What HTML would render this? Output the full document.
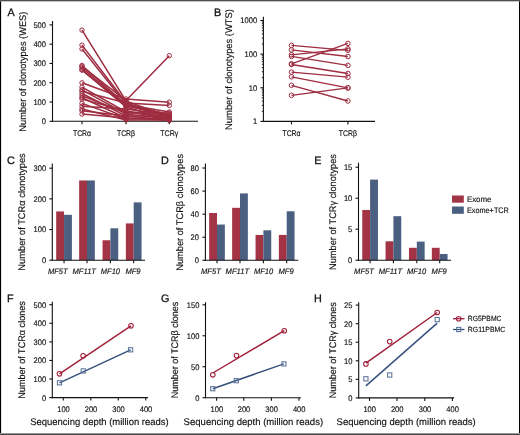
<!DOCTYPE html>
<html><head><meta charset="utf-8"><style>
html,body{margin:0;padding:0;background:#fff;}
svg{display:block;font-family:'Liberation Sans', sans-serif;will-change:transform;}
text{stroke:currentColor;stroke-width:0.15px;text-rendering:geometricPrecision;}
</style></head><body>
<svg width="520" height="435" viewBox="0 0 520 435">
<rect x="0" y="0" width="520" height="435" fill="#fff"/>
<line x1="52.50" y1="21.00" x2="52.50" y2="121.85" stroke="#111111" stroke-width="1.1"/>
<line x1="49.50" y1="121.30" x2="52.50" y2="121.30" stroke="#111111" stroke-width="1.1"/>
<line x1="49.50" y1="102.02" x2="52.50" y2="102.02" stroke="#111111" stroke-width="1.1"/>
<line x1="49.50" y1="82.74" x2="52.50" y2="82.74" stroke="#111111" stroke-width="1.1"/>
<line x1="49.50" y1="63.46" x2="52.50" y2="63.46" stroke="#111111" stroke-width="1.1"/>
<line x1="49.50" y1="44.18" x2="52.50" y2="44.18" stroke="#111111" stroke-width="1.1"/>
<line x1="49.50" y1="24.90" x2="52.50" y2="24.90" stroke="#111111" stroke-width="1.1"/>
<line x1="51.95" y1="121.30" x2="198.00" y2="121.30" stroke="#111111" stroke-width="1.1"/>
<line x1="82.00" y1="121.30" x2="82.00" y2="124.30" stroke="#111111" stroke-width="1.1"/>
<line x1="126.00" y1="121.30" x2="126.00" y2="124.30" stroke="#111111" stroke-width="1.1"/>
<line x1="169.30" y1="121.30" x2="169.30" y2="124.30" stroke="#111111" stroke-width="1.1"/>
<text x="46.00" y="124.20" font-size="8.1" text-anchor="end" textLength="4.20" lengthAdjust="spacingAndGlyphs" fill="#111111" color="#111111">0</text>
<text x="46.00" y="104.92" font-size="8.1" text-anchor="end" textLength="12.60" lengthAdjust="spacingAndGlyphs" fill="#111111" color="#111111">100</text>
<text x="46.00" y="85.64" font-size="8.1" text-anchor="end" textLength="12.60" lengthAdjust="spacingAndGlyphs" fill="#111111" color="#111111">200</text>
<text x="46.00" y="66.36" font-size="8.1" text-anchor="end" textLength="12.60" lengthAdjust="spacingAndGlyphs" fill="#111111" color="#111111">300</text>
<text x="46.00" y="47.08" font-size="8.1" text-anchor="end" textLength="12.60" lengthAdjust="spacingAndGlyphs" fill="#111111" color="#111111">400</text>
<text x="46.00" y="27.80" font-size="8.1" text-anchor="end" textLength="12.60" lengthAdjust="spacingAndGlyphs" fill="#111111" color="#111111">500</text>
<text x="82.00" y="135.90" font-size="8.2" text-anchor="middle" textLength="18.10" lengthAdjust="spacingAndGlyphs" fill="#111111" color="#111111">TCR&#945;</text>
<text x="126.00" y="135.90" font-size="8.2" text-anchor="middle" textLength="18.10" lengthAdjust="spacingAndGlyphs" fill="#111111" color="#111111">TCR&#946;</text>
<text x="169.30" y="135.90" font-size="8.2" text-anchor="middle" textLength="18.10" lengthAdjust="spacingAndGlyphs" fill="#111111" color="#111111">TCR&#947;</text>
<text transform="translate(25.60,71.65) rotate(-90)" x="0" y="0" font-size="9.6" text-anchor="middle" textLength="120.10" lengthAdjust="spacingAndGlyphs" fill="#111111" color="#111111">Number of clonotypes (WES)</text>
<text x="7.50" y="15.60" font-size="10.8" fill="#111111" color="#111111" style="stroke-width:0.3px">A</text>
<polyline points="82.0,30.1 126.0,101 169.3,117.0" fill="none" stroke="#9e2d41" stroke-width="1.5"/>
<polyline points="82.0,45.1 126.0,102.5 169.3,119.0" fill="none" stroke="#9e2d41" stroke-width="1.5"/>
<polyline points="82.0,49.0 126.0,104 169.3,115.0" fill="none" stroke="#9e2d41" stroke-width="1.5"/>
<polyline points="82.0,65.5 126.0,104.5 169.3,112.0" fill="none" stroke="#9e2d41" stroke-width="1.5"/>
<polyline points="82.0,66.3 126.0,100.5 169.3,55.7" fill="none" stroke="#9e2d41" stroke-width="1.5"/>
<polyline points="82.0,69.7 126.0,107 169.3,120.0" fill="none" stroke="#9e2d41" stroke-width="1.5"/>
<polyline points="82.0,67.8 126.0,105.5 169.3,116.5" fill="none" stroke="#9e2d41" stroke-width="1.5"/>
<polyline points="82.0,70.1 126.0,106 169.3,114.0" fill="none" stroke="#9e2d41" stroke-width="1.5"/>
<polyline points="82.0,82.8 126.0,99 169.3,102.2" fill="none" stroke="#9e2d41" stroke-width="1.5"/>
<polyline points="82.0,87.1 126.0,112 169.3,118.0" fill="none" stroke="#9e2d41" stroke-width="1.5"/>
<polyline points="82.0,89.9 126.0,114 169.3,119.0" fill="none" stroke="#9e2d41" stroke-width="1.5"/>
<polyline points="82.0,91.3 126.0,103 169.3,105.4" fill="none" stroke="#9e2d41" stroke-width="1.5"/>
<polyline points="82.0,93.5 126.0,116 169.3,116.0" fill="none" stroke="#9e2d41" stroke-width="1.5"/>
<polyline points="82.0,95.8 126.0,113 169.3,113.0" fill="none" stroke="#9e2d41" stroke-width="1.5"/>
<polyline points="82.0,97.7 126.0,118 169.3,120.3" fill="none" stroke="#9e2d41" stroke-width="1.5"/>
<polyline points="82.0,99.1 126.0,111 169.3,117.0" fill="none" stroke="#9e2d41" stroke-width="1.5"/>
<polyline points="82.0,103.4 126.0,119 169.3,118.0" fill="none" stroke="#9e2d41" stroke-width="1.5"/>
<polyline points="82.0,106.3 126.0,109 169.3,115.0" fill="none" stroke="#9e2d41" stroke-width="1.5"/>
<polyline points="82.0,109.1 126.0,120 169.3,120.0" fill="none" stroke="#9e2d41" stroke-width="1.5"/>
<polyline points="82.0,110.7 126.0,116 169.3,120.3" fill="none" stroke="#9e2d41" stroke-width="1.5"/>
<polyline points="82.0,114.1 126.0,118 169.3,119.0" fill="none" stroke="#9e2d41" stroke-width="1.5"/>
<circle cx="82.0" cy="30.1" r="2.2" fill="none" stroke="#9e2d41" stroke-width="1.0"/>
<circle cx="126.0" cy="101" r="2.2" fill="none" stroke="#9e2d41" stroke-width="1.0"/>
<circle cx="169.3" cy="117.0" r="2.2" fill="none" stroke="#9e2d41" stroke-width="1.0"/>
<circle cx="82.0" cy="45.1" r="2.2" fill="none" stroke="#9e2d41" stroke-width="1.0"/>
<circle cx="126.0" cy="102.5" r="2.2" fill="none" stroke="#9e2d41" stroke-width="1.0"/>
<circle cx="169.3" cy="119.0" r="2.2" fill="none" stroke="#9e2d41" stroke-width="1.0"/>
<circle cx="82.0" cy="49.0" r="2.2" fill="none" stroke="#9e2d41" stroke-width="1.0"/>
<circle cx="126.0" cy="104" r="2.2" fill="none" stroke="#9e2d41" stroke-width="1.0"/>
<circle cx="169.3" cy="115.0" r="2.2" fill="none" stroke="#9e2d41" stroke-width="1.0"/>
<circle cx="82.0" cy="65.5" r="2.2" fill="none" stroke="#9e2d41" stroke-width="1.0"/>
<circle cx="126.0" cy="104.5" r="2.2" fill="none" stroke="#9e2d41" stroke-width="1.0"/>
<circle cx="169.3" cy="112.0" r="2.2" fill="none" stroke="#9e2d41" stroke-width="1.0"/>
<circle cx="82.0" cy="66.3" r="2.2" fill="none" stroke="#9e2d41" stroke-width="1.0"/>
<circle cx="126.0" cy="100.5" r="2.2" fill="none" stroke="#9e2d41" stroke-width="1.0"/>
<circle cx="169.3" cy="55.7" r="2.2" fill="none" stroke="#9e2d41" stroke-width="1.0"/>
<circle cx="82.0" cy="69.7" r="2.2" fill="none" stroke="#9e2d41" stroke-width="1.0"/>
<circle cx="126.0" cy="107" r="2.2" fill="none" stroke="#9e2d41" stroke-width="1.0"/>
<circle cx="169.3" cy="120.0" r="2.2" fill="none" stroke="#9e2d41" stroke-width="1.0"/>
<circle cx="82.0" cy="67.8" r="2.2" fill="none" stroke="#9e2d41" stroke-width="1.0"/>
<circle cx="126.0" cy="105.5" r="2.2" fill="none" stroke="#9e2d41" stroke-width="1.0"/>
<circle cx="169.3" cy="116.5" r="2.2" fill="none" stroke="#9e2d41" stroke-width="1.0"/>
<circle cx="82.0" cy="70.1" r="2.2" fill="none" stroke="#9e2d41" stroke-width="1.0"/>
<circle cx="126.0" cy="106" r="2.2" fill="none" stroke="#9e2d41" stroke-width="1.0"/>
<circle cx="169.3" cy="114.0" r="2.2" fill="none" stroke="#9e2d41" stroke-width="1.0"/>
<circle cx="82.0" cy="82.8" r="2.2" fill="none" stroke="#9e2d41" stroke-width="1.0"/>
<circle cx="126.0" cy="99" r="2.2" fill="none" stroke="#9e2d41" stroke-width="1.0"/>
<circle cx="169.3" cy="102.2" r="2.2" fill="none" stroke="#9e2d41" stroke-width="1.0"/>
<circle cx="82.0" cy="87.1" r="2.2" fill="none" stroke="#9e2d41" stroke-width="1.0"/>
<circle cx="126.0" cy="112" r="2.2" fill="none" stroke="#9e2d41" stroke-width="1.0"/>
<circle cx="169.3" cy="118.0" r="2.2" fill="none" stroke="#9e2d41" stroke-width="1.0"/>
<circle cx="82.0" cy="89.9" r="2.2" fill="none" stroke="#9e2d41" stroke-width="1.0"/>
<circle cx="126.0" cy="114" r="2.2" fill="none" stroke="#9e2d41" stroke-width="1.0"/>
<circle cx="169.3" cy="119.0" r="2.2" fill="none" stroke="#9e2d41" stroke-width="1.0"/>
<circle cx="82.0" cy="91.3" r="2.2" fill="none" stroke="#9e2d41" stroke-width="1.0"/>
<circle cx="126.0" cy="103" r="2.2" fill="none" stroke="#9e2d41" stroke-width="1.0"/>
<circle cx="169.3" cy="105.4" r="2.2" fill="none" stroke="#9e2d41" stroke-width="1.0"/>
<circle cx="82.0" cy="93.5" r="2.2" fill="none" stroke="#9e2d41" stroke-width="1.0"/>
<circle cx="126.0" cy="116" r="2.2" fill="none" stroke="#9e2d41" stroke-width="1.0"/>
<circle cx="169.3" cy="116.0" r="2.2" fill="none" stroke="#9e2d41" stroke-width="1.0"/>
<circle cx="82.0" cy="95.8" r="2.2" fill="none" stroke="#9e2d41" stroke-width="1.0"/>
<circle cx="126.0" cy="113" r="2.2" fill="none" stroke="#9e2d41" stroke-width="1.0"/>
<circle cx="169.3" cy="113.0" r="2.2" fill="none" stroke="#9e2d41" stroke-width="1.0"/>
<circle cx="82.0" cy="97.7" r="2.2" fill="none" stroke="#9e2d41" stroke-width="1.0"/>
<circle cx="126.0" cy="118" r="2.2" fill="none" stroke="#9e2d41" stroke-width="1.0"/>
<circle cx="169.3" cy="120.3" r="2.2" fill="none" stroke="#9e2d41" stroke-width="1.0"/>
<circle cx="82.0" cy="99.1" r="2.2" fill="none" stroke="#9e2d41" stroke-width="1.0"/>
<circle cx="126.0" cy="111" r="2.2" fill="none" stroke="#9e2d41" stroke-width="1.0"/>
<circle cx="169.3" cy="117.0" r="2.2" fill="none" stroke="#9e2d41" stroke-width="1.0"/>
<circle cx="82.0" cy="103.4" r="2.2" fill="none" stroke="#9e2d41" stroke-width="1.0"/>
<circle cx="126.0" cy="119" r="2.2" fill="none" stroke="#9e2d41" stroke-width="1.0"/>
<circle cx="169.3" cy="118.0" r="2.2" fill="none" stroke="#9e2d41" stroke-width="1.0"/>
<circle cx="82.0" cy="106.3" r="2.2" fill="none" stroke="#9e2d41" stroke-width="1.0"/>
<circle cx="126.0" cy="109" r="2.2" fill="none" stroke="#9e2d41" stroke-width="1.0"/>
<circle cx="169.3" cy="115.0" r="2.2" fill="none" stroke="#9e2d41" stroke-width="1.0"/>
<circle cx="82.0" cy="109.1" r="2.2" fill="none" stroke="#9e2d41" stroke-width="1.0"/>
<circle cx="126.0" cy="120" r="2.2" fill="none" stroke="#9e2d41" stroke-width="1.0"/>
<circle cx="169.3" cy="120.0" r="2.2" fill="none" stroke="#9e2d41" stroke-width="1.0"/>
<circle cx="82.0" cy="110.7" r="2.2" fill="none" stroke="#9e2d41" stroke-width="1.0"/>
<circle cx="126.0" cy="116" r="2.2" fill="none" stroke="#9e2d41" stroke-width="1.0"/>
<circle cx="169.3" cy="120.3" r="2.2" fill="none" stroke="#9e2d41" stroke-width="1.0"/>
<circle cx="82.0" cy="114.1" r="2.2" fill="none" stroke="#9e2d41" stroke-width="1.0"/>
<circle cx="126.0" cy="118" r="2.2" fill="none" stroke="#9e2d41" stroke-width="1.0"/>
<circle cx="169.3" cy="119.0" r="2.2" fill="none" stroke="#9e2d41" stroke-width="1.0"/>
<line x1="263.40" y1="16.80" x2="263.40" y2="121.95" stroke="#111111" stroke-width="1.1"/>
<line x1="260.40" y1="121.40" x2="263.40" y2="121.40" stroke="#111111" stroke-width="1.1"/>
<line x1="260.40" y1="87.77" x2="263.40" y2="87.77" stroke="#111111" stroke-width="1.1"/>
<line x1="260.40" y1="54.14" x2="263.40" y2="54.14" stroke="#111111" stroke-width="1.1"/>
<line x1="260.40" y1="20.51" x2="263.40" y2="20.51" stroke="#111111" stroke-width="1.1"/>
<line x1="261.80" y1="111.28" x2="263.40" y2="111.28" stroke="#111111" stroke-width="0.9"/>
<line x1="261.80" y1="105.35" x2="263.40" y2="105.35" stroke="#111111" stroke-width="0.9"/>
<line x1="261.80" y1="101.15" x2="263.40" y2="101.15" stroke="#111111" stroke-width="0.9"/>
<line x1="261.80" y1="97.89" x2="263.40" y2="97.89" stroke="#111111" stroke-width="0.9"/>
<line x1="261.80" y1="95.23" x2="263.40" y2="95.23" stroke="#111111" stroke-width="0.9"/>
<line x1="261.80" y1="92.98" x2="263.40" y2="92.98" stroke="#111111" stroke-width="0.9"/>
<line x1="261.80" y1="91.03" x2="263.40" y2="91.03" stroke="#111111" stroke-width="0.9"/>
<line x1="261.80" y1="89.31" x2="263.40" y2="89.31" stroke="#111111" stroke-width="0.9"/>
<line x1="261.80" y1="77.65" x2="263.40" y2="77.65" stroke="#111111" stroke-width="0.9"/>
<line x1="261.80" y1="71.72" x2="263.40" y2="71.72" stroke="#111111" stroke-width="0.9"/>
<line x1="261.80" y1="67.52" x2="263.40" y2="67.52" stroke="#111111" stroke-width="0.9"/>
<line x1="261.80" y1="64.26" x2="263.40" y2="64.26" stroke="#111111" stroke-width="0.9"/>
<line x1="261.80" y1="61.60" x2="263.40" y2="61.60" stroke="#111111" stroke-width="0.9"/>
<line x1="261.80" y1="59.35" x2="263.40" y2="59.35" stroke="#111111" stroke-width="0.9"/>
<line x1="261.80" y1="57.40" x2="263.40" y2="57.40" stroke="#111111" stroke-width="0.9"/>
<line x1="261.80" y1="55.68" x2="263.40" y2="55.68" stroke="#111111" stroke-width="0.9"/>
<line x1="261.80" y1="44.02" x2="263.40" y2="44.02" stroke="#111111" stroke-width="0.9"/>
<line x1="261.80" y1="38.09" x2="263.40" y2="38.09" stroke="#111111" stroke-width="0.9"/>
<line x1="261.80" y1="33.89" x2="263.40" y2="33.89" stroke="#111111" stroke-width="0.9"/>
<line x1="261.80" y1="30.63" x2="263.40" y2="30.63" stroke="#111111" stroke-width="0.9"/>
<line x1="261.80" y1="27.97" x2="263.40" y2="27.97" stroke="#111111" stroke-width="0.9"/>
<line x1="261.80" y1="25.72" x2="263.40" y2="25.72" stroke="#111111" stroke-width="0.9"/>
<line x1="261.80" y1="23.77" x2="263.40" y2="23.77" stroke="#111111" stroke-width="0.9"/>
<line x1="261.80" y1="22.05" x2="263.40" y2="22.05" stroke="#111111" stroke-width="0.9"/>
<line x1="262.85" y1="121.40" x2="375.00" y2="121.40" stroke="#111111" stroke-width="1.1"/>
<line x1="291.50" y1="121.40" x2="291.50" y2="124.40" stroke="#111111" stroke-width="1.1"/>
<line x1="347.90" y1="121.40" x2="347.90" y2="124.40" stroke="#111111" stroke-width="1.1"/>
<text x="257.10" y="124.30" font-size="8.1" text-anchor="end" textLength="4.20" lengthAdjust="spacingAndGlyphs" fill="#111111" color="#111111">1</text>
<text x="257.10" y="90.67" font-size="8.1" text-anchor="end" textLength="8.40" lengthAdjust="spacingAndGlyphs" fill="#111111" color="#111111">10</text>
<text x="257.10" y="57.04" font-size="8.1" text-anchor="end" textLength="12.60" lengthAdjust="spacingAndGlyphs" fill="#111111" color="#111111">100</text>
<text x="257.10" y="23.41" font-size="8.1" text-anchor="end" textLength="16.80" lengthAdjust="spacingAndGlyphs" fill="#111111" color="#111111">1000</text>
<text x="291.50" y="135.90" font-size="8.2" text-anchor="middle" textLength="18.10" lengthAdjust="spacingAndGlyphs" fill="#111111" color="#111111">TCR&#945;</text>
<text x="347.90" y="135.90" font-size="8.2" text-anchor="middle" textLength="18.10" lengthAdjust="spacingAndGlyphs" fill="#111111" color="#111111">TCR&#946;</text>
<text transform="translate(231.80,69.50) rotate(-90)" x="0" y="0" font-size="9.6" text-anchor="middle" textLength="120.80" lengthAdjust="spacingAndGlyphs" fill="#111111" color="#111111">Number of clonotypes (WTS)</text>
<text x="213.90" y="15.60" font-size="10.8" fill="#111111" color="#111111" style="stroke-width:0.3px">B</text>
<line x1="291.50" y1="45.40" x2="347.90" y2="50.30" stroke="#9e2d41" stroke-width="1.3"/>
<line x1="291.50" y1="49.90" x2="347.90" y2="56.50" stroke="#9e2d41" stroke-width="1.3"/>
<line x1="291.50" y1="54.80" x2="347.90" y2="48.80" stroke="#9e2d41" stroke-width="1.3"/>
<line x1="291.50" y1="56.40" x2="347.90" y2="65.40" stroke="#9e2d41" stroke-width="1.3"/>
<line x1="291.50" y1="63.80" x2="347.90" y2="43.40" stroke="#9e2d41" stroke-width="1.3"/>
<line x1="291.50" y1="64.50" x2="347.90" y2="73.50" stroke="#9e2d41" stroke-width="1.3"/>
<line x1="291.50" y1="72.10" x2="347.90" y2="77.20" stroke="#9e2d41" stroke-width="1.3"/>
<line x1="291.50" y1="76.80" x2="347.90" y2="87.90" stroke="#9e2d41" stroke-width="1.3"/>
<line x1="291.50" y1="85.30" x2="347.90" y2="101.00" stroke="#9e2d41" stroke-width="1.3"/>
<line x1="291.50" y1="95.30" x2="347.90" y2="87.90" stroke="#9e2d41" stroke-width="1.3"/>
<circle cx="291.5" cy="45.4" r="2.3" fill="none" stroke="#9e2d41" stroke-width="1.0"/>
<circle cx="347.9" cy="50.3" r="2.3" fill="none" stroke="#9e2d41" stroke-width="1.0"/>
<circle cx="291.5" cy="49.9" r="2.3" fill="none" stroke="#9e2d41" stroke-width="1.0"/>
<circle cx="347.9" cy="56.5" r="2.3" fill="none" stroke="#9e2d41" stroke-width="1.0"/>
<circle cx="291.5" cy="54.8" r="2.3" fill="none" stroke="#9e2d41" stroke-width="1.0"/>
<circle cx="347.9" cy="48.8" r="2.3" fill="none" stroke="#9e2d41" stroke-width="1.0"/>
<circle cx="291.5" cy="56.4" r="2.3" fill="none" stroke="#9e2d41" stroke-width="1.0"/>
<circle cx="347.9" cy="65.4" r="2.3" fill="none" stroke="#9e2d41" stroke-width="1.0"/>
<circle cx="291.5" cy="63.8" r="2.3" fill="none" stroke="#9e2d41" stroke-width="1.0"/>
<circle cx="347.9" cy="43.4" r="2.3" fill="none" stroke="#9e2d41" stroke-width="1.0"/>
<circle cx="291.5" cy="64.5" r="2.3" fill="none" stroke="#9e2d41" stroke-width="1.0"/>
<circle cx="347.9" cy="73.5" r="2.3" fill="none" stroke="#9e2d41" stroke-width="1.0"/>
<circle cx="291.5" cy="72.1" r="2.3" fill="none" stroke="#9e2d41" stroke-width="1.0"/>
<circle cx="347.9" cy="77.2" r="2.3" fill="none" stroke="#9e2d41" stroke-width="1.0"/>
<circle cx="291.5" cy="76.8" r="2.3" fill="none" stroke="#9e2d41" stroke-width="1.0"/>
<circle cx="347.9" cy="87.9" r="2.3" fill="none" stroke="#9e2d41" stroke-width="1.0"/>
<circle cx="291.5" cy="85.3" r="2.3" fill="none" stroke="#9e2d41" stroke-width="1.0"/>
<circle cx="347.9" cy="101.0" r="2.3" fill="none" stroke="#9e2d41" stroke-width="1.0"/>
<circle cx="291.5" cy="95.3" r="2.3" fill="none" stroke="#9e2d41" stroke-width="1.0"/>
<circle cx="347.9" cy="87.9" r="2.3" fill="none" stroke="#9e2d41" stroke-width="1.0"/>
<rect x="56.20" y="211.43" width="7.85" height="48.77" fill="#a23446"/>
<rect x="64.05" y="214.81" width="7.85" height="45.39" fill="#4b6080"/>
<rect x="79.15" y="180.46" width="7.85" height="79.74" fill="#a23446"/>
<rect x="87.00" y="180.46" width="7.85" height="79.74" fill="#4b6080"/>
<rect x="102.55" y="240.26" width="7.85" height="19.94" fill="#a23446"/>
<rect x="110.40" y="228.30" width="7.85" height="31.90" fill="#4b6080"/>
<rect x="125.85" y="223.40" width="7.85" height="36.80" fill="#a23446"/>
<rect x="133.70" y="202.39" width="7.85" height="57.81" fill="#4b6080"/>
<line x1="52.30" y1="163.50" x2="52.30" y2="260.75" stroke="#111111" stroke-width="1.1"/>
<line x1="49.30" y1="260.20" x2="52.30" y2="260.20" stroke="#111111" stroke-width="1.1"/>
<line x1="49.30" y1="229.53" x2="52.30" y2="229.53" stroke="#111111" stroke-width="1.1"/>
<line x1="49.30" y1="198.86" x2="52.30" y2="198.86" stroke="#111111" stroke-width="1.1"/>
<line x1="49.30" y1="168.19" x2="52.30" y2="168.19" stroke="#111111" stroke-width="1.1"/>
<line x1="51.75" y1="260.20" x2="145.10" y2="260.20" stroke="#111111" stroke-width="1.1"/>
<line x1="64.05" y1="260.20" x2="64.05" y2="263.20" stroke="#111111" stroke-width="1.1"/>
<line x1="87.00" y1="260.20" x2="87.00" y2="263.20" stroke="#111111" stroke-width="1.1"/>
<line x1="110.40" y1="260.20" x2="110.40" y2="263.20" stroke="#111111" stroke-width="1.1"/>
<line x1="133.70" y1="260.20" x2="133.70" y2="263.20" stroke="#111111" stroke-width="1.1"/>
<text x="46.20" y="263.10" font-size="8.1" text-anchor="end" textLength="4.20" lengthAdjust="spacingAndGlyphs" fill="#111111" color="#111111">0</text>
<text x="46.20" y="232.43" font-size="8.1" text-anchor="end" textLength="12.60" lengthAdjust="spacingAndGlyphs" fill="#111111" color="#111111">100</text>
<text x="46.20" y="201.76" font-size="8.1" text-anchor="end" textLength="12.60" lengthAdjust="spacingAndGlyphs" fill="#111111" color="#111111">200</text>
<text x="46.20" y="171.09" font-size="8.1" text-anchor="end" textLength="12.60" lengthAdjust="spacingAndGlyphs" fill="#111111" color="#111111">300</text>
<text x="47.90" y="273.60" font-size="8.0" textLength="19.80" lengthAdjust="spacingAndGlyphs" font-style="italic" fill="#111111" color="#111111">MF5T</text>
<text x="72.50" y="273.60" font-size="8.0" textLength="23.50" lengthAdjust="spacingAndGlyphs" font-style="italic" fill="#111111" color="#111111">MF11T</text>
<text x="100.80" y="273.60" font-size="8.0" textLength="19.20" lengthAdjust="spacingAndGlyphs" font-style="italic" fill="#111111" color="#111111">MF10</text>
<text x="125.40" y="273.60" font-size="8.0" textLength="15.20" lengthAdjust="spacingAndGlyphs" font-style="italic" fill="#111111" color="#111111">MF9</text>
<text transform="translate(25.00,212.00) rotate(-90)" x="0" y="0" font-size="9.6" text-anchor="middle" textLength="117.40" lengthAdjust="spacingAndGlyphs" fill="#111111" color="#111111">Number of TCR&#945; clonotypes</text>
<text x="7.00" y="164.00" font-size="10.8" fill="#111111" color="#111111" style="stroke-width:0.3px">C</text>
<rect x="209.15" y="213.01" width="7.85" height="47.29" fill="#a23446"/>
<rect x="217.00" y="224.54" width="7.85" height="35.76" fill="#4b6080"/>
<rect x="232.15" y="207.82" width="7.85" height="52.48" fill="#a23446"/>
<rect x="240.00" y="193.40" width="7.85" height="66.90" fill="#4b6080"/>
<rect x="255.55" y="234.92" width="7.85" height="25.38" fill="#a23446"/>
<rect x="263.40" y="230.31" width="7.85" height="29.99" fill="#4b6080"/>
<rect x="278.85" y="234.92" width="7.85" height="25.38" fill="#a23446"/>
<rect x="286.70" y="211.28" width="7.85" height="49.02" fill="#4b6080"/>
<line x1="205.40" y1="163.50" x2="205.40" y2="260.85" stroke="#111111" stroke-width="1.1"/>
<line x1="202.40" y1="260.30" x2="205.40" y2="260.30" stroke="#111111" stroke-width="1.1"/>
<line x1="202.40" y1="237.23" x2="205.40" y2="237.23" stroke="#111111" stroke-width="1.1"/>
<line x1="202.40" y1="214.16" x2="205.40" y2="214.16" stroke="#111111" stroke-width="1.1"/>
<line x1="202.40" y1="191.09" x2="205.40" y2="191.09" stroke="#111111" stroke-width="1.1"/>
<line x1="202.40" y1="168.02" x2="205.40" y2="168.02" stroke="#111111" stroke-width="1.1"/>
<line x1="204.85" y1="260.30" x2="298.30" y2="260.30" stroke="#111111" stroke-width="1.1"/>
<line x1="217.00" y1="260.30" x2="217.00" y2="263.30" stroke="#111111" stroke-width="1.1"/>
<line x1="240.00" y1="260.30" x2="240.00" y2="263.30" stroke="#111111" stroke-width="1.1"/>
<line x1="263.40" y1="260.30" x2="263.40" y2="263.30" stroke="#111111" stroke-width="1.1"/>
<line x1="286.70" y1="260.30" x2="286.70" y2="263.30" stroke="#111111" stroke-width="1.1"/>
<text x="199.00" y="263.20" font-size="8.1" text-anchor="end" textLength="4.20" lengthAdjust="spacingAndGlyphs" fill="#111111" color="#111111">0</text>
<text x="199.00" y="240.13" font-size="8.1" text-anchor="end" textLength="8.40" lengthAdjust="spacingAndGlyphs" fill="#111111" color="#111111">20</text>
<text x="199.00" y="217.06" font-size="8.1" text-anchor="end" textLength="8.40" lengthAdjust="spacingAndGlyphs" fill="#111111" color="#111111">40</text>
<text x="199.00" y="193.99" font-size="8.1" text-anchor="end" textLength="8.40" lengthAdjust="spacingAndGlyphs" fill="#111111" color="#111111">60</text>
<text x="199.00" y="170.92" font-size="8.1" text-anchor="end" textLength="8.40" lengthAdjust="spacingAndGlyphs" fill="#111111" color="#111111">80</text>
<text x="201.00" y="273.60" font-size="8.0" textLength="19.80" lengthAdjust="spacingAndGlyphs" font-style="italic" fill="#111111" color="#111111">MF5T</text>
<text x="225.60" y="273.60" font-size="8.0" textLength="23.50" lengthAdjust="spacingAndGlyphs" font-style="italic" fill="#111111" color="#111111">MF11T</text>
<text x="253.90" y="273.60" font-size="8.0" textLength="19.20" lengthAdjust="spacingAndGlyphs" font-style="italic" fill="#111111" color="#111111">MF10</text>
<text x="278.50" y="273.60" font-size="8.0" textLength="15.20" lengthAdjust="spacingAndGlyphs" font-style="italic" fill="#111111" color="#111111">MF9</text>
<text transform="translate(183.00,212.40) rotate(-90)" x="0" y="0" font-size="9.6" text-anchor="middle" textLength="116.80" lengthAdjust="spacingAndGlyphs" fill="#111111" color="#111111">Number of TCR&#946; clonotypes</text>
<text x="160.90" y="164.00" font-size="10.8" fill="#111111" color="#111111" style="stroke-width:0.3px">D</text>
<rect x="362.25" y="209.98" width="7.85" height="50.22" fill="#a23446"/>
<rect x="370.10" y="179.60" width="7.85" height="80.60" fill="#4b6080"/>
<rect x="385.55" y="241.29" width="7.85" height="18.91" fill="#a23446"/>
<rect x="393.40" y="216.18" width="7.85" height="44.02" fill="#4b6080"/>
<rect x="408.95" y="247.80" width="7.85" height="12.40" fill="#a23446"/>
<rect x="416.80" y="241.60" width="7.85" height="18.60" fill="#4b6080"/>
<rect x="431.85" y="247.80" width="7.85" height="12.40" fill="#a23446"/>
<rect x="439.70" y="254.00" width="7.85" height="6.20" fill="#4b6080"/>
<line x1="358.50" y1="162.70" x2="358.50" y2="260.75" stroke="#111111" stroke-width="1.1"/>
<line x1="355.50" y1="260.20" x2="358.50" y2="260.20" stroke="#111111" stroke-width="1.1"/>
<line x1="355.50" y1="229.20" x2="358.50" y2="229.20" stroke="#111111" stroke-width="1.1"/>
<line x1="355.50" y1="198.20" x2="358.50" y2="198.20" stroke="#111111" stroke-width="1.1"/>
<line x1="355.50" y1="167.20" x2="358.50" y2="167.20" stroke="#111111" stroke-width="1.1"/>
<line x1="357.95" y1="260.20" x2="451.10" y2="260.20" stroke="#111111" stroke-width="1.1"/>
<line x1="370.10" y1="260.20" x2="370.10" y2="263.20" stroke="#111111" stroke-width="1.1"/>
<line x1="393.40" y1="260.20" x2="393.40" y2="263.20" stroke="#111111" stroke-width="1.1"/>
<line x1="416.80" y1="260.20" x2="416.80" y2="263.20" stroke="#111111" stroke-width="1.1"/>
<line x1="439.70" y1="260.20" x2="439.70" y2="263.20" stroke="#111111" stroke-width="1.1"/>
<text x="352.30" y="263.10" font-size="8.1" text-anchor="end" textLength="4.20" lengthAdjust="spacingAndGlyphs" fill="#111111" color="#111111">0</text>
<text x="352.30" y="232.10" font-size="8.1" text-anchor="end" textLength="4.20" lengthAdjust="spacingAndGlyphs" fill="#111111" color="#111111">5</text>
<text x="352.30" y="201.10" font-size="8.1" text-anchor="end" textLength="8.40" lengthAdjust="spacingAndGlyphs" fill="#111111" color="#111111">10</text>
<text x="352.30" y="170.10" font-size="8.1" text-anchor="end" textLength="8.40" lengthAdjust="spacingAndGlyphs" fill="#111111" color="#111111">15</text>
<text x="354.10" y="273.60" font-size="8.0" textLength="19.80" lengthAdjust="spacingAndGlyphs" font-style="italic" fill="#111111" color="#111111">MF5T</text>
<text x="378.70" y="273.60" font-size="8.0" textLength="23.50" lengthAdjust="spacingAndGlyphs" font-style="italic" fill="#111111" color="#111111">MF11T</text>
<text x="407.00" y="273.60" font-size="8.0" textLength="19.20" lengthAdjust="spacingAndGlyphs" font-style="italic" fill="#111111" color="#111111">MF10</text>
<text x="431.60" y="273.60" font-size="8.0" textLength="15.20" lengthAdjust="spacingAndGlyphs" font-style="italic" fill="#111111" color="#111111">MF9</text>
<text transform="translate(336.00,212.05) rotate(-90)" x="0" y="0" font-size="9.6" text-anchor="middle" textLength="115.90" lengthAdjust="spacingAndGlyphs" fill="#111111" color="#111111">Number of TCR&#947; clonotypes</text>
<text x="314.30" y="164.00" font-size="10.8" fill="#111111" color="#111111" style="stroke-width:0.3px">E</text>
<rect x="452" y="195.5" width="11.8" height="7.2" fill="#a23446"/>
<rect x="452" y="206.5" width="11.8" height="7.3" fill="#4b6080"/>
<text x="466.90" y="201.90" font-size="8" textLength="24.60" lengthAdjust="spacingAndGlyphs" fill="#111111" color="#111111">Exome</text>
<text x="466.90" y="213.00" font-size="8" textLength="42.00" lengthAdjust="spacingAndGlyphs" fill="#111111" color="#111111">Exome+TCR</text>
<line x1="52.30" y1="301.80" x2="52.30" y2="398.15" stroke="#111111" stroke-width="1.1"/>
<line x1="49.30" y1="397.60" x2="52.30" y2="397.60" stroke="#111111" stroke-width="1.1"/>
<line x1="49.30" y1="379.02" x2="52.30" y2="379.02" stroke="#111111" stroke-width="1.1"/>
<line x1="49.30" y1="360.44" x2="52.30" y2="360.44" stroke="#111111" stroke-width="1.1"/>
<line x1="49.30" y1="341.86" x2="52.30" y2="341.86" stroke="#111111" stroke-width="1.1"/>
<line x1="49.30" y1="323.28" x2="52.30" y2="323.28" stroke="#111111" stroke-width="1.1"/>
<line x1="49.30" y1="304.70" x2="52.30" y2="304.70" stroke="#111111" stroke-width="1.1"/>
<line x1="51.75" y1="397.60" x2="147.90" y2="397.60" stroke="#111111" stroke-width="1.1"/>
<line x1="63.30" y1="397.60" x2="63.30" y2="400.60" stroke="#111111" stroke-width="1.1"/>
<line x1="90.80" y1="397.60" x2="90.80" y2="400.60" stroke="#111111" stroke-width="1.1"/>
<line x1="118.30" y1="397.60" x2="118.30" y2="400.60" stroke="#111111" stroke-width="1.1"/>
<line x1="145.80" y1="397.60" x2="145.80" y2="400.60" stroke="#111111" stroke-width="1.1"/>
<text x="46.20" y="400.50" font-size="8.1" text-anchor="end" textLength="4.20" lengthAdjust="spacingAndGlyphs" fill="#111111" color="#111111">0</text>
<text x="46.20" y="381.92" font-size="8.1" text-anchor="end" textLength="12.60" lengthAdjust="spacingAndGlyphs" fill="#111111" color="#111111">100</text>
<text x="46.20" y="363.34" font-size="8.1" text-anchor="end" textLength="12.60" lengthAdjust="spacingAndGlyphs" fill="#111111" color="#111111">200</text>
<text x="46.20" y="344.76" font-size="8.1" text-anchor="end" textLength="12.60" lengthAdjust="spacingAndGlyphs" fill="#111111" color="#111111">300</text>
<text x="46.20" y="326.18" font-size="8.1" text-anchor="end" textLength="12.60" lengthAdjust="spacingAndGlyphs" fill="#111111" color="#111111">400</text>
<text x="46.20" y="307.60" font-size="8.1" text-anchor="end" textLength="12.60" lengthAdjust="spacingAndGlyphs" fill="#111111" color="#111111">500</text>
<text x="63.50" y="411.80" font-size="8.1" text-anchor="middle" textLength="12.60" lengthAdjust="spacingAndGlyphs" fill="#111111" color="#111111">100</text>
<text x="91.00" y="411.80" font-size="8.1" text-anchor="middle" textLength="12.60" lengthAdjust="spacingAndGlyphs" fill="#111111" color="#111111">200</text>
<text x="118.50" y="411.80" font-size="8.1" text-anchor="middle" textLength="12.60" lengthAdjust="spacingAndGlyphs" fill="#111111" color="#111111">300</text>
<text x="146.00" y="411.80" font-size="8.1" text-anchor="middle" textLength="12.60" lengthAdjust="spacingAndGlyphs" fill="#111111" color="#111111">400</text>
<line x1="59.50" y1="373.80" x2="131.00" y2="325.80" stroke="#a01f3a" stroke-width="1.45"/>
<line x1="59.50" y1="382.80" x2="130.60" y2="349.80" stroke="#35507c" stroke-width="1.45"/>
<circle cx="59.5" cy="373.8" r="2.3" fill="none" stroke="#a01f3a" stroke-width="1.05"/>
<circle cx="83.1" cy="355.7" r="2.3" fill="none" stroke="#a01f3a" stroke-width="1.05"/>
<circle cx="131.0" cy="325.8" r="2.3" fill="none" stroke="#a01f3a" stroke-width="1.05"/>
<rect x="57.40" y="380.70" width="4.2" height="4.2" fill="none" stroke="#5a739a" stroke-width="1.05"/>
<rect x="81.20" y="368.80" width="4.2" height="4.2" fill="none" stroke="#5a739a" stroke-width="1.05"/>
<rect x="128.50" y="347.70" width="4.2" height="4.2" fill="none" stroke="#5a739a" stroke-width="1.05"/>
<text transform="translate(25.20,349.90) rotate(-90)" x="0" y="0" font-size="9.6" text-anchor="middle" textLength="97.60" lengthAdjust="spacingAndGlyphs" fill="#111111" color="#111111">Number of TCR&#945; clones</text>
<text x="7.00" y="302.30" font-size="10.8" fill="#111111" color="#111111" style="stroke-width:0.3px">F</text>
<text x="30.20" y="425.40" font-size="9.6" textLength="138.50" lengthAdjust="spacingAndGlyphs" fill="#111111" color="#111111">Sequencing depth (million reads)</text>
<line x1="205.50" y1="302.20" x2="205.50" y2="398.25" stroke="#111111" stroke-width="1.1"/>
<line x1="202.50" y1="397.70" x2="205.50" y2="397.70" stroke="#111111" stroke-width="1.1"/>
<line x1="202.50" y1="366.73" x2="205.50" y2="366.73" stroke="#111111" stroke-width="1.1"/>
<line x1="202.50" y1="335.76" x2="205.50" y2="335.76" stroke="#111111" stroke-width="1.1"/>
<line x1="202.50" y1="304.79" x2="205.50" y2="304.79" stroke="#111111" stroke-width="1.1"/>
<line x1="204.95" y1="397.70" x2="300.90" y2="397.70" stroke="#111111" stroke-width="1.1"/>
<line x1="216.60" y1="397.70" x2="216.60" y2="400.70" stroke="#111111" stroke-width="1.1"/>
<line x1="243.80" y1="397.70" x2="243.80" y2="400.70" stroke="#111111" stroke-width="1.1"/>
<line x1="271.40" y1="397.70" x2="271.40" y2="400.70" stroke="#111111" stroke-width="1.1"/>
<line x1="299.00" y1="397.70" x2="299.00" y2="400.70" stroke="#111111" stroke-width="1.1"/>
<text x="199.40" y="400.60" font-size="8.1" text-anchor="end" textLength="4.20" lengthAdjust="spacingAndGlyphs" fill="#111111" color="#111111">0</text>
<text x="199.40" y="369.63" font-size="8.1" text-anchor="end" textLength="8.40" lengthAdjust="spacingAndGlyphs" fill="#111111" color="#111111">50</text>
<text x="199.40" y="338.66" font-size="8.1" text-anchor="end" textLength="12.60" lengthAdjust="spacingAndGlyphs" fill="#111111" color="#111111">100</text>
<text x="199.40" y="307.69" font-size="8.1" text-anchor="end" textLength="12.60" lengthAdjust="spacingAndGlyphs" fill="#111111" color="#111111">150</text>
<text x="216.80" y="411.80" font-size="8.1" text-anchor="middle" textLength="12.60" lengthAdjust="spacingAndGlyphs" fill="#111111" color="#111111">100</text>
<text x="244.00" y="411.80" font-size="8.1" text-anchor="middle" textLength="12.60" lengthAdjust="spacingAndGlyphs" fill="#111111" color="#111111">200</text>
<text x="271.60" y="411.80" font-size="8.1" text-anchor="middle" textLength="12.60" lengthAdjust="spacingAndGlyphs" fill="#111111" color="#111111">300</text>
<text x="299.20" y="411.80" font-size="8.1" text-anchor="middle" textLength="12.60" lengthAdjust="spacingAndGlyphs" fill="#111111" color="#111111">400</text>
<line x1="212.80" y1="373.00" x2="284.30" y2="330.70" stroke="#a01f3a" stroke-width="1.45"/>
<line x1="212.80" y1="388.70" x2="283.90" y2="363.90" stroke="#35507c" stroke-width="1.45"/>
<circle cx="212.8" cy="374.8" r="2.3" fill="none" stroke="#a01f3a" stroke-width="1.05"/>
<circle cx="236.5" cy="355.6" r="2.3" fill="none" stroke="#a01f3a" stroke-width="1.05"/>
<circle cx="284.3" cy="330.7" r="2.3" fill="none" stroke="#a01f3a" stroke-width="1.05"/>
<rect x="210.70" y="386.60" width="4.2" height="4.2" fill="none" stroke="#5a739a" stroke-width="1.05"/>
<rect x="234.20" y="378.60" width="4.2" height="4.2" fill="none" stroke="#5a739a" stroke-width="1.05"/>
<rect x="281.80" y="361.80" width="4.2" height="4.2" fill="none" stroke="#5a739a" stroke-width="1.05"/>
<text transform="translate(177.90,349.95) rotate(-90)" x="0" y="0" font-size="9.6" text-anchor="middle" textLength="96.50" lengthAdjust="spacingAndGlyphs" fill="#111111" color="#111111">Number of TCR&#946; clones</text>
<text x="161.00" y="302.30" font-size="10.8" fill="#111111" color="#111111" style="stroke-width:0.3px">G</text>
<text x="183.60" y="425.40" font-size="9.6" textLength="139.50" lengthAdjust="spacingAndGlyphs" fill="#111111" color="#111111">Sequencing depth (million reads)</text>
<line x1="358.70" y1="302.20" x2="358.70" y2="398.45" stroke="#111111" stroke-width="1.1"/>
<line x1="355.70" y1="397.90" x2="358.70" y2="397.90" stroke="#111111" stroke-width="1.1"/>
<line x1="355.70" y1="379.34" x2="358.70" y2="379.34" stroke="#111111" stroke-width="1.1"/>
<line x1="355.70" y1="360.78" x2="358.70" y2="360.78" stroke="#111111" stroke-width="1.1"/>
<line x1="355.70" y1="342.22" x2="358.70" y2="342.22" stroke="#111111" stroke-width="1.1"/>
<line x1="355.70" y1="323.66" x2="358.70" y2="323.66" stroke="#111111" stroke-width="1.1"/>
<line x1="355.70" y1="305.10" x2="358.70" y2="305.10" stroke="#111111" stroke-width="1.1"/>
<line x1="358.15" y1="397.90" x2="454.20" y2="397.90" stroke="#111111" stroke-width="1.1"/>
<line x1="369.50" y1="397.90" x2="369.50" y2="400.90" stroke="#111111" stroke-width="1.1"/>
<line x1="397.00" y1="397.90" x2="397.00" y2="400.90" stroke="#111111" stroke-width="1.1"/>
<line x1="424.80" y1="397.90" x2="424.80" y2="400.90" stroke="#111111" stroke-width="1.1"/>
<line x1="452.40" y1="397.90" x2="452.40" y2="400.90" stroke="#111111" stroke-width="1.1"/>
<text x="352.40" y="400.80" font-size="8.1" text-anchor="end" textLength="4.20" lengthAdjust="spacingAndGlyphs" fill="#111111" color="#111111">0</text>
<text x="352.40" y="382.24" font-size="8.1" text-anchor="end" textLength="4.20" lengthAdjust="spacingAndGlyphs" fill="#111111" color="#111111">5</text>
<text x="352.40" y="363.68" font-size="8.1" text-anchor="end" textLength="8.40" lengthAdjust="spacingAndGlyphs" fill="#111111" color="#111111">10</text>
<text x="352.40" y="345.12" font-size="8.1" text-anchor="end" textLength="8.40" lengthAdjust="spacingAndGlyphs" fill="#111111" color="#111111">15</text>
<text x="352.40" y="326.56" font-size="8.1" text-anchor="end" textLength="8.40" lengthAdjust="spacingAndGlyphs" fill="#111111" color="#111111">20</text>
<text x="352.40" y="308.00" font-size="8.1" text-anchor="end" textLength="8.40" lengthAdjust="spacingAndGlyphs" fill="#111111" color="#111111">25</text>
<text x="369.70" y="411.80" font-size="8.1" text-anchor="middle" textLength="12.60" lengthAdjust="spacingAndGlyphs" fill="#111111" color="#111111">100</text>
<text x="397.20" y="411.80" font-size="8.1" text-anchor="middle" textLength="12.60" lengthAdjust="spacingAndGlyphs" fill="#111111" color="#111111">200</text>
<text x="425.00" y="411.80" font-size="8.1" text-anchor="middle" textLength="12.60" lengthAdjust="spacingAndGlyphs" fill="#111111" color="#111111">300</text>
<text x="452.60" y="411.80" font-size="8.1" text-anchor="middle" textLength="12.60" lengthAdjust="spacingAndGlyphs" fill="#111111" color="#111111">400</text>
<line x1="365.90" y1="363.20" x2="437.20" y2="312.50" stroke="#a01f3a" stroke-width="1.45"/>
<line x1="365.90" y1="385.90" x2="437.20" y2="323.10" stroke="#35507c" stroke-width="1.45"/>
<circle cx="365.9" cy="363.9" r="2.3" fill="none" stroke="#a01f3a" stroke-width="1.05"/>
<circle cx="389.7" cy="341.6" r="2.3" fill="none" stroke="#a01f3a" stroke-width="1.05"/>
<circle cx="437.2" cy="312.5" r="2.3" fill="none" stroke="#a01f3a" stroke-width="1.05"/>
<rect x="363.80" y="376.70" width="4.2" height="4.2" fill="none" stroke="#5a739a" stroke-width="1.05"/>
<rect x="387.60" y="372.90" width="4.2" height="4.2" fill="none" stroke="#5a739a" stroke-width="1.05"/>
<rect x="435.10" y="317.50" width="4.2" height="4.2" fill="none" stroke="#5a739a" stroke-width="1.05"/>
<text transform="translate(336.40,350.20) rotate(-90)" x="0" y="0" font-size="9.6" text-anchor="middle" textLength="96.00" lengthAdjust="spacingAndGlyphs" fill="#111111" color="#111111">Number of TCR&#947; clones</text>
<text x="314.00" y="302.30" font-size="10.8" fill="#111111" color="#111111" style="stroke-width:0.3px">H</text>
<text x="336.60" y="425.40" font-size="9.6" textLength="139.10" lengthAdjust="spacingAndGlyphs" fill="#111111" color="#111111">Sequencing depth (million reads)</text>
<line x1="453.00" y1="318.70" x2="464.50" y2="318.70" stroke="#a01f3a" stroke-width="1.3"/>
<circle cx="458.7" cy="318.7" r="2.3" fill="none" stroke="#a01f3a" stroke-width="1.05"/>
<line x1="453.00" y1="329.50" x2="464.50" y2="329.50" stroke="#35507c" stroke-width="1.3"/>
<rect x="456.6" y="327.4" width="4.2" height="4.2" fill="none" stroke="#5a739a" stroke-width="1.05"/>
<text x="467.80" y="321.40" font-size="7.5" textLength="33.70" lengthAdjust="spacingAndGlyphs" fill="#111111" color="#111111">RG5PBMC</text>
<text x="467.80" y="332.00" font-size="7.5" textLength="37.40" lengthAdjust="spacingAndGlyphs" fill="#111111" color="#111111">RG11PBMC</text>
<rect x="0" y="0" width="1.1" height="435" fill="#000"/>
<rect x="519" y="0" width="1" height="435" fill="#000"/>
<rect x="0" y="0" width="520" height="1" fill="#505050"/>
<rect x="0" y="1" width="520" height="0.5" fill="#8a8a8a"/>
<rect x="0" y="433" width="520" height="1" fill="#9a9a9a"/>
<rect x="0" y="434" width="520" height="1" fill="#444"/>
</svg>
</body></html>
